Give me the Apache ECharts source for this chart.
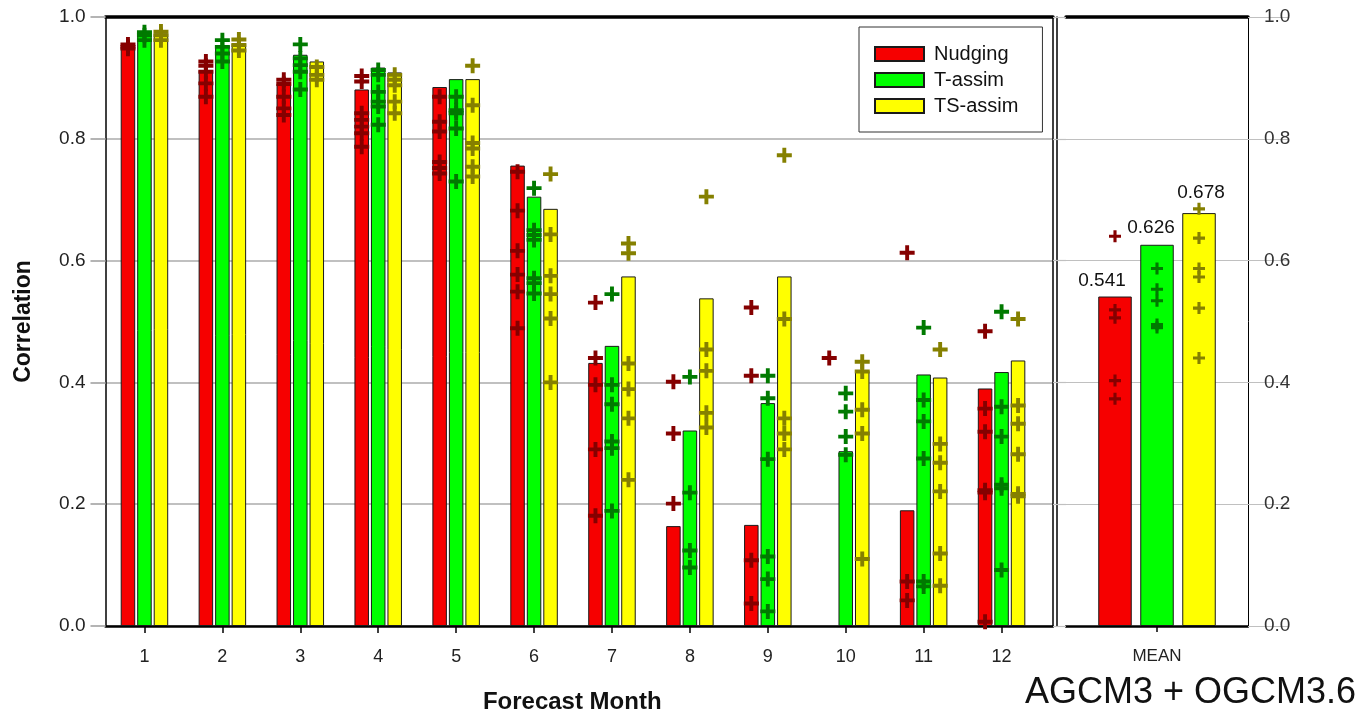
<!DOCTYPE html>
<html>
<head>
<meta charset="utf-8">
<style>
  html, body { margin: 0; padding: 0; background: #fff; }
  #chart { width: 1371px; height: 713px; }
</style>
<script src="https://cdn.jsdelivr.net/npm/echarts@6/dist/echarts.min.js"></script>
</head>
<body>
<div id="chart"></div>
<script>
// Forecast months and scheme names
const months = [1, 2, 3, 4, 5, 6, 7, 8, 9, 10, 11, 12];
const schemes = ['Nudging', 'T-assim', 'TS-assim'];

// Ensemble-mean correlation per forecast month
const nudgingBars = [0.949, 0.913, 0.891, 0.881, 0.885, 0.756, 0.432, 0.164, 0.166, null, 0.190, 0.390];
const tAssimBars  = [0.970, 0.953, 0.938, 0.917, 0.898, 0.705, 0.460, 0.321, 0.366, 0.287, 0.413, 0.417];
const tsAssimBars = [0.973, 0.957, 0.927, 0.909, 0.898, 0.685, 0.574, 0.538, 0.574, 0.419, 0.408, 0.436];

// Individual member correlations per forecast month
const nudgingMembers = [
  [0.955, 0.951, 0.948],
  [0.927, 0.920, 0.910, 0.891, 0.869],
  [0.897, 0.890, 0.869, 0.850, 0.839],
  [0.903, 0.894, 0.842, 0.831, 0.820, 0.809, 0.787],
  [0.869, 0.828, 0.812, 0.762, 0.752, 0.743],
  [0.746, 0.682, 0.616, 0.577, 0.549, 0.489],
  [0.531, 0.440, 0.396, 0.290, 0.181],
  [0.401, 0.316, 0.201],
  [0.523, 0.411, 0.108, 0.037],
  [0.440],
  [0.613, 0.073, 0.042],
  [0.484, 0.357, 0.319, 0.223, 0.219, 0.007]
];
const tAssimMembers = [
  [0.975, 0.970, 0.962],
  [0.962, 0.951, 0.940, 0.927],
  [0.955, 0.932, 0.921, 0.910, 0.881],
  [0.913, 0.905, 0.877, 0.861, 0.853, 0.823],
  [0.869, 0.847, 0.842, 0.817, 0.730],
  [0.719, 0.650, 0.642, 0.634, 0.571, 0.563, 0.546],
  [0.545, 0.396, 0.364, 0.303, 0.292, 0.189],
  [0.409, 0.219, 0.124, 0.096],
  [0.411, 0.374, 0.274, 0.114, 0.077, 0.024],
  [0.382, 0.352, 0.311, 0.281],
  [0.490, 0.371, 0.336, 0.275, 0.073, 0.065],
  [0.516, 0.360, 0.311, 0.232, 0.226, 0.092]
];
const tsAssimMembers = [
  [0.976, 0.970, 0.962],
  [0.963, 0.954, 0.945],
  [0.918, 0.905, 0.897],
  [0.905, 0.897, 0.888, 0.861, 0.842],
  [0.920, 0.855, 0.793, 0.784, 0.754, 0.738],
  [0.742, 0.643, 0.575, 0.545, 0.505, 0.400],
  [0.628, 0.612, 0.431, 0.389, 0.341, 0.240],
  [0.705, 0.454, 0.419, 0.350, 0.326],
  [0.773, 0.504, 0.341, 0.316, 0.290],
  [0.434, 0.418, 0.355, 0.316, 0.110],
  [0.454, 0.299, 0.268, 0.221, 0.119, 0.066],
  [0.504, 0.362, 0.332, 0.282, 0.217, 0.213]
];

// Averages over all forecast months
const meanCategory = ['MEAN'];
const meanBars = [0.541, 0.626, 0.678];
const nudgingMeanMembers = [0.640, 0.519, 0.506, 0.403, 0.373];
const tAssimMeanMembers  = [0.587, 0.553, 0.534, 0.495, 0.490];
const tsAssimMeanMembers = [0.685, 0.637, 0.587, 0.573, 0.522, 0.440];

// ---- styling ----
const FONT = "'Liberation Sans', Arial, sans-serif";
const barColors = ['#f60000', '#00ff00', '#ffff00'];
const crossColors = ['#850000', '#007a00', '#858000'];
const gridGray = '#c0c0c0';
const PLUS = 'path://M3.7,0H6.3V3.7H10V6.3H6.3V10H3.7V6.3H0V3.7H3.7Z';

const BAR_W = 14.5, BAR_GAP = 2;          // monthly bars
const MEAN_W = 33.5, MEAN_GAP = 8.5;      // mean panel bars
const monthSlot = BAR_W + BAR_GAP;
const meanSlot = MEAN_W + MEAN_GAP;

const barsByScheme = [nudgingBars, tAssimBars, tsAssimBars];
const membersByScheme = [nudgingMembers, tAssimMembers, tsAssimMembers];
const meanMembersByScheme = [nudgingMeanMembers, tAssimMeanMembers, tsAssimMeanMembers];
const meanLabelOffsets = [[-13, -1], [-6, -3], [2, -6]];

const series = [];
schemes.forEach((name, s) => {
  series.push({
    name: name,
    type: 'bar',
    xAxisIndex: 0, yAxisIndex: 0,
    barWidth: BAR_W,
    barGap: (BAR_GAP / BAR_W * 100) + '%',
    data: months.map((m, i) => [m, barsByScheme[s][i]]),
    itemStyle: { color: barColors[s], borderColor: '#1a1a1a', borderWidth: 1 },
    z: 2
  });
});
schemes.forEach((name, s) => {
  const pts = [];
  months.forEach((m, i) => membersByScheme[s][i].forEach(v => pts.push([m, v])));
  series.push({
    name: name + ' members',
    type: 'scatter',
    xAxisIndex: 0, yAxisIndex: 0,
    symbol: PLUS,
    symbolSize: 15,
    symbolOffset: [(s - 1) * monthSlot, 0],
    itemStyle: { color: crossColors[s], opacity: 1 },
    data: pts,
    z: 5
  });
});
schemes.forEach((name, s) => {
  series.push({
    name: name,
    type: 'bar',
    xAxisIndex: 2, yAxisIndex: 4,
    barWidth: MEAN_W,
    barGap: (MEAN_GAP / MEAN_W * 100) + '%',
    data: [meanBars[s]],
    itemStyle: { color: barColors[s], borderColor: '#1a1a1a', borderWidth: 1 },
    label: {
      show: true, position: 'top', distance: 5,
      offset: meanLabelOffsets[s],
      formatter: p => p.value.toFixed(3),
      fontFamily: FONT, fontSize: 19, color: '#111'
    },
    z: 2
  });
});
schemes.forEach((name, s) => {
  series.push({
    name: name + ' mean members',
    type: 'scatter',
    xAxisIndex: 2, yAxisIndex: 4,
    symbol: PLUS,
    symbolSize: 12,
    symbolOffset: [(s - 1) * meanSlot, 0],
    itemStyle: { color: crossColors[s], opacity: 1 },
    data: meanMembersByScheme[s].map(v => ['MEAN', v]),
    z: 5
  });
});

const yBase = { type: 'value', min: 0, max: 1, interval: 0.2 };
const hidden = { axisLine: { show: false }, axisTick: { show: false }, axisLabel: { show: false }, splitLine: { show: false } };
const frameLine = (w) => ({ show: true, onZero: false, lineStyle: { color: '#000', width: w } });

const option = {
  animation: false,
  backgroundColor: '#fff',
  textStyle: { fontFamily: FONT },
  title: {
    text: 'AGCM3 + OGCM3.6',
    right: 10, top: 670,
    textStyle: { fontFamily: FONT, fontSize: 36, fontWeight: 'normal', color: '#111' }
  },
  legend: {
    data: schemes.map(n => ({ name: n, icon: 'rect' })),
    orient: 'vertical',
    left: 859, top: 27,
    backgroundColor: '#fff',
    borderColor: '#333', borderWidth: 1,
    padding: [17, 24, 16, 15],
    itemWidth: 49, itemHeight: 14, itemGap: 6,
    textStyle: { fontFamily: FONT, fontSize: 20, lineHeight: 20, color: '#111', padding: [0, 0, 0, 5] },
    selectedMode: false,
    z: 10
  },
  grid: [
    { left: 105.5, top: 17, width: 947.5, height: 609, containLabel: false, outerBoundsMode: 'none' },
    { left: 1066, top: 17, width: 182, height: 609, containLabel: false, outerBoundsMode: 'none' }
  ],
  xAxis: [
    {
      type: 'value', gridIndex: 0, position: 'bottom', min: 0.5, max: 12.66,
      axisLine: frameLine(2.5),
      axisTick: { show: true, customValues: months, length: 7, lineStyle: { color: '#000', width: 1.5 } },
      axisLabel: { show: true, customValues: months, margin: 22, fontSize: 18, color: '#222', fontFamily: FONT },
      splitLine: { show: false },
      name: 'Forecast Month', nameLocation: 'middle', nameGap: 64,
      nameTextStyle: { fontFamily: FONT, fontSize: 24, fontWeight: 'bold', color: '#111', padding: [0, 14, 0, 0] }
    },
    {
      type: 'value', gridIndex: 0, position: 'top', min: 0.5, max: 12.66,
      axisLine: frameLine(3.5),
      axisTick: { show: false }, axisLabel: { show: false }, splitLine: { show: false }
    },
    {
      type: 'category', gridIndex: 1, position: 'bottom', data: meanCategory,
      axisLine: frameLine(2.5),
      axisTick: { show: true, alignWithLabel: true, length: 6, lineStyle: { color: '#000', width: 1.5 } },
      axisLabel: { margin: 22, fontSize: 17, color: '#222', fontFamily: FONT }
    },
    {
      type: 'category', gridIndex: 1, position: 'top', data: meanCategory,
      axisLine: frameLine(3.5),
      axisTick: { show: false }, axisLabel: { show: false }
    }
  ],
  yAxis: [
    Object.assign({}, yBase, {
      gridIndex: 0, position: 'left',
      axisLine: frameLine(1.5),
      axisTick: { show: true, length: 15, lineStyle: { color: '#b4b4b4', width: 2 } },
      axisLabel: { margin: 20, fontSize: 19, color: '#222', fontFamily: FONT, formatter: v => v.toFixed(1) },
      splitLine: { show: true, lineStyle: { color: gridGray, width: 2 } },
      name: 'Correlation', nameLocation: 'middle', nameGap: 70, nameRotate: 90,
      nameTextStyle: { fontFamily: FONT, fontSize: 23, fontWeight: 'bold', color: '#111' }
    }),
    Object.assign({}, yBase, hidden, {
      gridIndex: 0, position: 'right', offset: 0,
      axisLine: frameLine(1.5)
    }),
    Object.assign({}, yBase, hidden, {
      gridIndex: 0, position: 'right', offset: 4,
      axisLine: frameLine(1.5)
    }),
    Object.assign({}, yBase, hidden, {
      gridIndex: 1, position: 'left',
      axisTick: { show: true, length: 13, lineStyle: { color: gridGray, width: 1.2 } },
      splitLine: { show: true, lineStyle: { color: gridGray, width: 1.2 } }
    }),
    Object.assign({}, yBase, {
      gridIndex: 1, position: 'right',
      axisLine: frameLine(1),
      axisTick: { show: true, length: 40, lineStyle: { color: gridGray, width: 1.2 } },
      axisLabel: { margin: 16, fontSize: 19, color: '#333', fontFamily: FONT, formatter: v => v.toFixed(1) },
      splitLine: { show: false }
    })
  ],
  series: series
};

const chart = echarts.init(document.getElementById('chart'), null, { renderer: 'canvas' });
chart.setOption(option);
</script>
</body>
</html>
